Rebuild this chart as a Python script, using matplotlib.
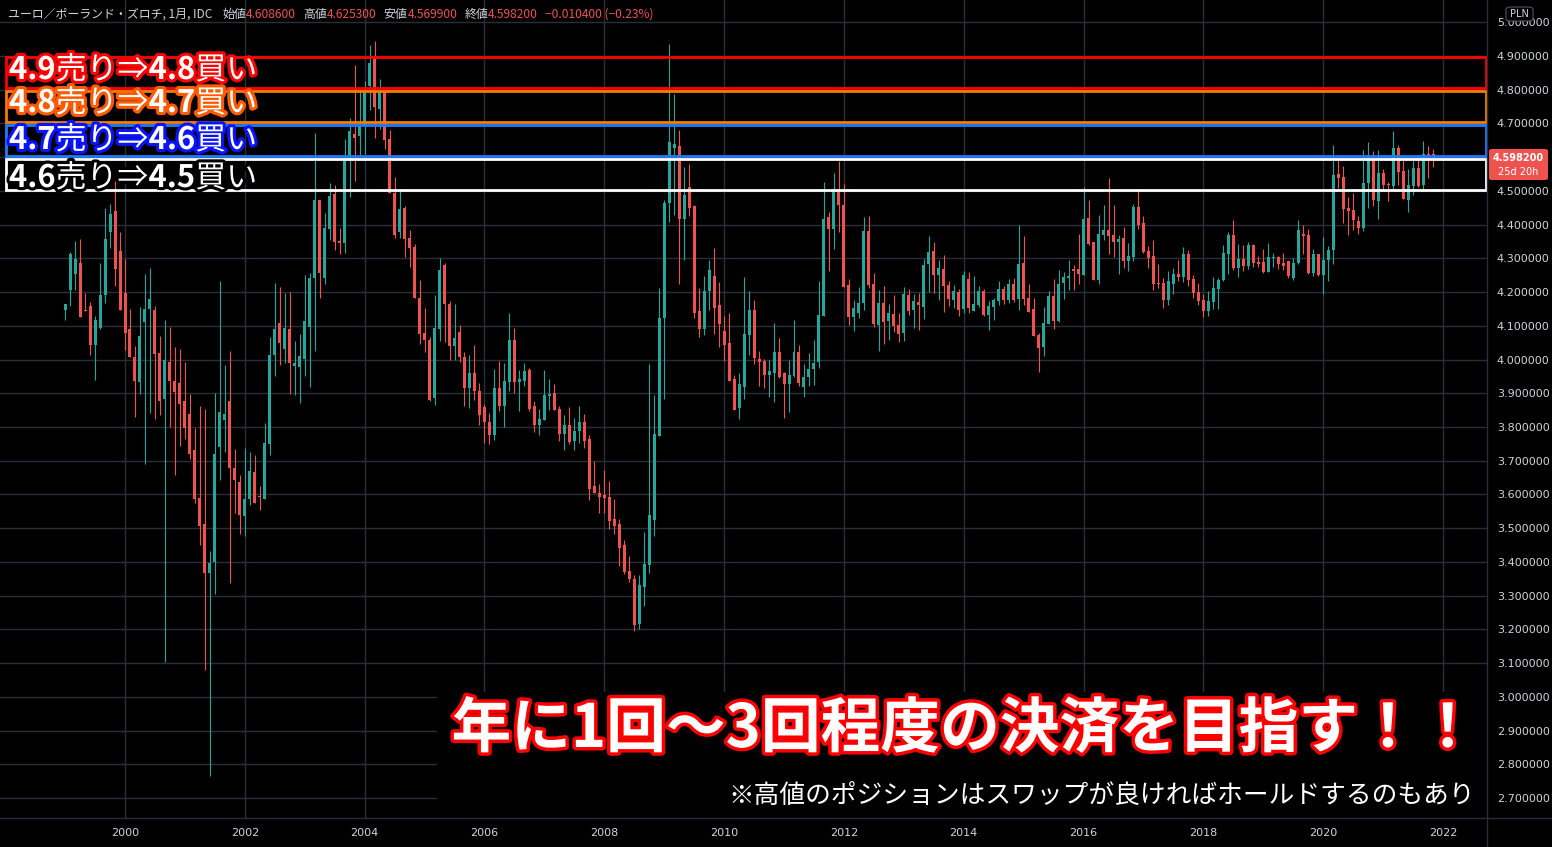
import numpy as np
import matplotlib.pyplot as plt
import matplotlib.patheffects as pe
from matplotlib.patches import Rectangle, FancyBboxPatch
from matplotlib.lines import Line2D

plt.rcParams['font.family'] = ['Noto Sans CJK JP', 'DejaVu Sans']

# EUR/PLN monthly candles, Jan 1999 - Nov 2021 (one row per year)
start_year = 1999
opens = [
    4.147, 4.206, 4.254, 4.285, 4.148, 4.160, 4.043, 4.093, 4.192, 4.377, 4.439, 4.323,
    4.198, 4.090, 4.008, 3.934, 4.111, 4.149, 4.147, 4.020, 3.882, 3.992, 3.937, 3.930,
    3.877, 3.839, 3.732, 3.590, 3.513, 3.368, 3.400, 3.742, 3.822, 3.877, 3.679, 3.636,
    3.536, 3.586, 3.668, 3.594, 3.586, 3.749, 4.013, 4.108, 4.032, 4.090, 3.982, 3.978,
    4.002, 4.098, 4.242, 4.472, 4.242, 4.387, 4.490, 4.351, 4.345, 4.590, 4.670, 4.662,
    4.695, 4.810, 4.895, 4.743, 4.797, 4.655, 4.495, 4.377, 4.448, 4.359, 4.335, 4.184,
    4.080, 4.059, 3.885, 4.090, 4.281, 4.166, 4.039, 4.083, 4.009, 3.915, 3.961, 3.908,
    3.858, 3.816, 3.775, 3.917, 3.863, 3.933, 4.059, 3.933, 3.936, 3.970, 3.863, 3.807,
    3.820, 3.893, 3.902, 3.852, 3.780, 3.807, 3.760, 3.789, 3.816, 3.764, 3.626, 3.605,
    3.599, 3.594, 3.527, 3.513, 3.450, 3.374, 3.349, 3.216, 3.327, 3.392, 3.524, 3.774,
    4.124, 4.463, 4.628, 4.634, 4.416, 4.511, 4.455, 4.144, 4.091, 4.204, 4.248, 4.162,
    4.085, 4.049, 3.943, 3.855, 3.920, 4.074, 4.147, 4.003, 3.995, 3.955, 3.961, 4.022,
    3.960, 3.928, 3.951, 4.022, 3.919, 3.947, 3.971, 3.992, 4.129, 4.424, 4.388, 4.500,
    4.459, 4.220, 4.126, 4.138, 4.167, 4.382, 4.223, 4.102, 4.169, 4.113, 4.134, 4.101,
    4.078, 4.190, 4.146, 4.172, 4.155, 4.282, 4.323, 4.250, 4.268, 4.220, 4.176, 4.200,
    4.149, 4.238, 4.144, 4.161, 4.203, 4.133, 4.155, 4.173, 4.208, 4.176, 4.223, 4.179,
    4.285, 4.182, 4.149, 4.072, 4.037, 4.105, 4.188, 4.114, 4.226, 4.241, 4.269, 4.269,
    4.250, 4.419, 4.349, 4.235, 4.368, 4.383, 4.368, 4.348, 4.360, 4.291, 4.303, 4.451,
    4.404, 4.321, 4.306, 4.226, 4.226, 4.176, 4.223, 4.253, 4.244, 4.312, 4.238, 4.200,
    4.176, 4.143, 4.170, 4.208, 4.235, 4.312, 4.368, 4.271, 4.297, 4.277, 4.339, 4.288,
    4.288, 4.259, 4.300, 4.303, 4.285, 4.291, 4.241, 4.286, 4.373, 4.368, 4.256, 4.314,
    4.250, 4.294, 4.324, 4.549, 4.540, 4.448, 4.442, 4.410, 4.389, 4.523, 4.591, 4.469,
    4.552, 4.521, 4.514, 4.626, 4.558, 4.472, 4.514, 4.567, 4.517, 4.608, 4.6086,
]
highs = [
    4.165, 4.320, 4.352, 4.358, 4.198, 4.172, 4.130, 4.285, 4.448, 4.462, 4.530, 4.379,
    4.299, 4.149, 4.040, 4.155, 4.253, 4.270, 4.160, 4.069, 4.117, 4.097, 4.037, 4.031,
    3.992, 3.898, 3.797, 3.863, 3.853, 3.433, 3.901, 4.234, 3.984, 4.025, 3.736, 3.658,
    3.739, 3.726, 3.718, 3.626, 3.811, 4.067, 4.227, 4.215, 4.197, 4.200, 4.055, 4.077,
    4.250, 4.257, 4.673, 4.472, 4.434, 4.522, 4.518, 4.390, 4.655, 4.717, 4.872, 4.797,
    4.825, 4.934, 4.944, 4.832, 4.797, 4.680, 4.540, 4.505, 4.455, 4.385, 4.343, 4.237,
    4.152, 4.068, 4.192, 4.302, 4.287, 4.175, 4.166, 4.101, 4.021, 4.015, 4.044, 3.932,
    3.868, 3.843, 3.973, 3.995, 3.989, 4.139, 4.095, 3.970, 3.991, 3.976, 3.878, 3.852,
    3.970, 3.941, 3.929, 3.862, 3.837, 3.858, 3.828, 3.863, 3.840, 3.776, 3.700, 3.630,
    3.673, 3.640, 3.587, 3.527, 3.465, 3.418, 3.361, 3.361, 3.490, 3.988, 3.895, 4.213,
    4.473, 4.935, 4.786, 4.680, 4.570, 4.580, 4.458, 4.212, 4.249, 4.296, 4.331, 4.229,
    4.129, 4.137, 3.953, 3.959, 4.244, 4.204, 4.178, 4.025, 4.003, 3.998, 4.107, 4.063,
    3.964, 4.000, 4.118, 4.044, 3.988, 4.018, 4.059, 4.232, 4.527, 4.438, 4.554, 4.589,
    4.521, 4.240, 4.178, 4.214, 4.422, 4.427, 4.258, 4.205, 4.217, 4.164, 4.190, 4.137,
    4.214, 4.208, 4.193, 4.196, 4.298, 4.367, 4.349, 4.294, 4.309, 4.232, 4.220, 4.208,
    4.262, 4.259, 4.247, 4.217, 4.208, 4.173, 4.182, 4.232, 4.217, 4.238, 4.241, 4.398,
    4.365, 4.223, 4.182, 4.078, 4.156, 4.203, 4.238, 4.265, 4.259, 4.294, 4.280, 4.371,
    4.512, 4.472, 4.349, 4.428, 4.457, 4.537, 4.457, 4.368, 4.392, 4.345, 4.460, 4.505,
    4.425, 4.336, 4.354, 4.283, 4.241, 4.262, 4.271, 4.294, 4.333, 4.324, 4.250, 4.226,
    4.194, 4.203, 4.244, 4.241, 4.339, 4.377, 4.413, 4.342, 4.339, 4.348, 4.342, 4.306,
    4.327, 4.345, 4.315, 4.306, 4.315, 4.291, 4.300, 4.413, 4.398, 4.386, 4.327, 4.314,
    4.363, 4.336, 4.635, 4.591, 4.573, 4.481, 4.493, 4.425, 4.620, 4.644, 4.617, 4.620,
    4.564, 4.525, 4.677, 4.635, 4.591, 4.564, 4.594, 4.591, 4.647, 4.632, 4.6253,
]
lows = [
    4.118, 4.160, 4.206, 4.127, 4.144, 4.014, 3.939, 4.091, 4.168, 4.331, 4.218, 4.148,
    4.029, 4.008, 3.829, 3.898, 3.691, 3.841, 3.823, 3.835, 3.104, 3.800, 3.659, 3.744,
    3.764, 3.704, 3.574, 3.449, 3.080, 2.765, 3.304, 3.643, 3.725, 3.339, 3.546, 3.484,
    3.476, 3.568, 3.576, 3.554, 3.586, 3.718, 3.950, 3.985, 3.990, 3.898, 3.894, 3.871,
    3.950, 3.918, 4.025, 4.183, 4.223, 4.353, 4.325, 4.313, 4.315, 4.483, 4.528, 4.603,
    4.610, 4.740, 4.657, 4.683, 4.623, 4.495, 4.360, 4.360, 4.303, 4.274, 4.182, 4.046,
    4.022, 3.876, 3.866, 4.056, 4.053, 3.998, 4.000, 3.992, 3.863, 3.856, 3.880, 3.805,
    3.752, 3.749, 3.762, 3.849, 3.799, 3.908, 3.901, 3.847, 3.923, 3.847, 3.784, 3.775,
    3.820, 3.850, 3.850, 3.760, 3.733, 3.751, 3.733, 3.754, 3.739, 3.585, 3.603, 3.545,
    3.545, 3.499, 3.482, 3.388, 3.363, 3.340, 3.196, 3.202, 3.269, 3.367, 3.478, 3.774,
    3.882, 4.408, 4.428, 4.225, 4.296, 4.426, 4.124, 4.068, 4.074, 4.147, 4.077, 4.037,
    3.997, 3.937, 3.850, 3.824, 3.884, 4.014, 3.988, 3.922, 3.916, 3.890, 3.875, 3.946,
    3.828, 3.845, 3.949, 3.923, 3.890, 3.923, 3.925, 3.976, 4.129, 4.264, 4.327, 4.379,
    4.215, 4.101, 4.084, 4.123, 4.146, 4.212, 4.096, 4.025, 4.045, 4.057, 4.081, 4.051,
    4.054, 4.131, 4.093, 4.087, 4.119, 4.199, 4.198, 4.176, 4.141, 4.158, 4.152, 4.130,
    4.138, 4.138, 4.144, 4.155, 4.130, 4.088, 4.118, 4.161, 4.165, 4.167, 4.170, 4.146,
    4.161, 4.140, 4.069, 3.963, 4.010, 4.105, 4.090, 4.112, 4.179, 4.206, 4.206, 4.223,
    4.250, 4.339, 4.235, 4.223, 4.354, 4.312, 4.303, 4.253, 4.271, 4.262, 4.291, 4.386,
    4.315, 4.271, 4.206, 4.211, 4.152, 4.161, 4.194, 4.232, 4.229, 4.217, 4.182, 4.161,
    4.126, 4.129, 4.149, 4.149, 4.232, 4.253, 4.265, 4.244, 4.262, 4.268, 4.274, 4.274,
    4.256, 4.259, 4.274, 4.268, 4.265, 4.241, 4.235, 4.282, 4.312, 4.253, 4.247, 4.247,
    4.195, 4.232, 4.282, 4.508, 4.404, 4.368, 4.383, 4.371, 4.380, 4.448, 4.454, 4.416,
    4.499, 4.469, 4.505, 4.517, 4.475, 4.437, 4.487, 4.511, 4.499, 4.537, 4.5699,
]
closes = [
    4.165, 4.314, 4.298, 4.127, 4.144, 4.043, 4.118, 4.192, 4.356, 4.431, 4.269, 4.148,
    4.079, 4.008, 3.936, 4.069, 4.151, 4.180, 4.016, 3.876, 4.000, 3.936, 3.904, 3.868,
    3.797, 3.719, 3.588, 3.508, 3.368, 3.398, 3.720, 3.845, 3.839, 3.678, 3.643, 3.539,
    3.586, 3.671, 3.576, 3.592, 3.754, 4.013, 4.090, 4.050, 4.095, 3.990, 3.990, 4.012,
    4.115, 4.242, 4.472, 4.257, 4.389, 4.485, 4.348, 4.345, 4.590, 4.677, 4.658, 4.698,
    4.797, 4.880, 4.750, 4.797, 4.650, 4.495, 4.370, 4.446, 4.358, 4.330, 4.182, 4.075,
    4.057, 3.880, 4.095, 4.267, 4.164, 4.039, 4.064, 4.007, 3.915, 3.961, 3.906, 3.835,
    3.814, 3.775, 3.917, 3.863, 3.935, 4.059, 3.933, 3.941, 3.967, 3.853, 3.807, 3.825,
    3.896, 3.899, 3.850, 3.780, 3.807, 3.757, 3.789, 3.816, 3.760, 3.617, 3.603, 3.594,
    3.590, 3.522, 3.507, 3.441, 3.371, 3.348, 3.212, 3.332, 3.394, 3.540, 3.780, 4.124,
    4.463, 4.644, 4.638, 4.416, 4.488, 4.450, 4.138, 4.091, 4.204, 4.265, 4.152, 4.104,
    4.043, 3.937, 3.850, 3.928, 4.077, 4.147, 4.006, 3.993, 3.955, 3.967, 4.022, 3.949,
    3.928, 3.954, 4.022, 3.931, 3.947, 3.973, 3.991, 4.131, 4.417, 4.388, 4.500, 4.459,
    4.215, 4.126, 4.152, 4.169, 4.382, 4.220, 4.105, 4.169, 4.110, 4.137, 4.099, 4.075,
    4.193, 4.143, 4.175, 4.161, 4.279, 4.320, 4.250, 4.271, 4.218, 4.179, 4.203, 4.146,
    4.250, 4.153, 4.164, 4.203, 4.133, 4.158, 4.176, 4.208, 4.176, 4.223, 4.176, 4.283,
    4.179, 4.140, 4.069, 4.035, 4.108, 4.188, 4.115, 4.223, 4.244, 4.247, 4.262, 4.253,
    4.416, 4.342, 4.237, 4.371, 4.383, 4.365, 4.348, 4.357, 4.291, 4.306, 4.451, 4.398,
    4.318, 4.300, 4.223, 4.223, 4.176, 4.232, 4.253, 4.244, 4.312, 4.235, 4.197, 4.173,
    4.143, 4.173, 4.211, 4.235, 4.315, 4.368, 4.271, 4.297, 4.277, 4.339, 4.285, 4.283,
    4.259, 4.303, 4.303, 4.283, 4.277, 4.247, 4.285, 4.383, 4.366, 4.256, 4.312, 4.250,
    4.294, 4.324, 4.546, 4.538, 4.445, 4.440, 4.413, 4.389, 4.523, 4.606, 4.472, 4.552,
    4.517, 4.518, 4.626, 4.555, 4.475, 4.517, 4.567, 4.515, 4.608, 4.605, 4.5982,
]

# trade zones: (label parts, upper, lower)
zones = [
    (("4.9", "売り⇒", "4.8", "買い"), 4.9, 4.8),
    (("4.8", "売り⇒", "4.7", "買い"), 4.8, 4.7),
    (("4.7", "売り⇒", "4.6", "買い"), 4.7, 4.6),
    (("4.6", "売り⇒", "4.5", "買い"), 4.6, 4.5),
]
zone_edge = ['#ff0000', '#f57c00', '#1e7bff', '#ffffff']
zone_stroke = ['#ff0000', '#ff5a00', '#0a14ff', '#000000']

title_name = "ユーロ／ポーランド・ズロチ, 1月, IDC"
ohlc_labels = ["始値", "高値", "安値", "終値"]
change_text = "−0.010400 (−0.23%)"
last_price = "4.598200"
countdown = "25d 20h"
main_msg = "年に1回～3回程度の決済を目指す！！"
sub_msg = "※高値のポジションはスワップが良ければホールドするのもあり"

UP = '#26a69a'
DOWN = '#ef5350'
GRID = '#2a2e39'
TXT = '#d1d4dc'

W, H = 1552, 847
fig = plt.figure(figsize=(W / 100, H / 100), dpi=100)
fig.patch.set_facecolor('black')

ax_w, ax_h = 1487, 818
ax = fig.add_axes([0, (H - ax_h) / H, ax_w / W, ax_h / H])
ax.set_facecolor('black')

o = np.array(opens)
h = np.array(highs)
l = np.array(lows)
c = np.array(closes)
t = start_year + np.arange(len(c)) / 12.0
col = np.where(c >= o, UP, DOWN)

ax.vlines(t, l, h, colors=col, linewidth=0.8, zorder=2)
body_lo = np.minimum(o, c)
body_h = np.maximum(np.abs(c - o), 0.003)
ax.bar(t, body_h, bottom=body_lo, width=0.05, color=col, linewidth=0, zorder=3)

ax.set_xlim(1997.9135, 2022.734)
ax.set_ylim(2.6409, 5.066)
yt = np.round(np.arange(2.7, 5.01, 0.1), 1)
ax.set_yticks(yt)
# the 4.6 label sits under the last-price badge
ax.set_yticklabels(["" if abs(v - 4.6) < 1e-9 else f"{v:.6f}" for v in yt])
ax.yaxis.tick_right()
ax.set_xticks(range(2000, 2023, 2))
ax.tick_params(axis='y', length=0, pad=7, labelsize=8, labelcolor=TXT)
ax.tick_params(axis='x', length=0, pad=7, labelsize=8, labelcolor=TXT)
for lab in ax.get_xticklabels() + ax.get_yticklabels():
    lab.set_family('DejaVu Sans')
ax.grid(True, color=GRID, linewidth=1)
ax.set_axisbelow(True)
for s in ax.spines.values():
    s.set_visible(False)

# separators of price / time scale
fig.add_artist(Line2D([ax_w / W] * 2, [0, 1], color=GRID, linewidth=1))
fig.add_artist(Line2D([0, 1], [(H - ax_h) / H] * 2, color=GRID, linewidth=1))

# zone boxes
x_left = 1997.9135 + 6 / 59.909
x_right = 2022.72
for i, (parts, top, bot) in enumerate(zones):
    ax.add_patch(Rectangle((x_left, bot + 0.004), x_right - x_left, top - bot - 0.008,
                           fill=False, edgecolor=zone_edge[i], linewidth=2, zorder=5))

renderer = fig.canvas.get_renderer()


def put_parts(x_px, y_px, parts, size, stroke=None, slw=4):
    # parts: (text, colour, weight); y_px is the baseline from the top
    x = x_px
    for s, colour, weight in parts:
        if s.startswith(' '):
            x += float(s[1:])
            continue
        txt = fig.text(x / W, 1 - y_px / H, s, fontsize=size, color=colour,
                       fontweight=weight, va='baseline', ha='left', zorder=10)
        if stroke:
            txt.set_path_effects([pe.withStroke(linewidth=slw, foreground=stroke)])
        x = txt.get_window_extent(renderer).x1
    return x


baselines = [79, 112, 149, 187]
for i, (parts, top, bot) in enumerate(zones):
    put_parts(9, baselines[i],
              [(parts[0], 'white', 'bold'), (parts[1], 'white', 'normal'),
               (parts[2], 'white', 'bold'), (parts[3], 'white', 'normal')],
              22.3, stroke=zone_stroke[i], slw=4.5)

# title line
vals = ["4.608600", "4.625300", "4.569900", last_price]
title_parts = [(title_name, TXT, 'normal'), (' 10', None, None)]
for lab, v in zip(ohlc_labels, vals):
    title_parts += [(lab, TXT, 'normal'), (v, DOWN, 'normal'), (' 7', None, None)]
title_parts.append((change_text, DOWN, 'normal'))
put_parts(8, 18, title_parts, 8.6)

# black panel behind the message
ax.add_patch(Rectangle((437 / ax_w, 0), 1 - 437 / ax_w, (ax_h - 692) / ax_h,
                       transform=ax.transAxes, facecolor='black', edgecolor='none', zorder=6))
msg = fig.text(1478 / W, 1 - 730 / H, main_msg, fontsize=43, fontweight='bold', color='white',
               ha='right', va='center', zorder=11)
msg.set_path_effects([pe.withStroke(linewidth=5, foreground='#ff0000')])
fig.text(1475 / W, 1 - 796 / H, sub_msg, fontsize=18.5, color='white',
         ha='right', va='center', zorder=11)

# price-scale badges
fig.add_artist(FancyBboxPatch((1506 / W, 1 - 21 / H), 27 / W, 14 / H,
                              boxstyle='round,pad=0,rounding_size=0.003',
                              facecolor='black', edgecolor='#50535e', linewidth=0.8,
                              transform=fig.transFigure, zorder=12))
fig.text(1519.5 / W, 1 - 14 / H, "PLN", fontsize=7, color=TXT, ha='center', va='center',
         family='DejaVu Sans', zorder=13)
fig.add_artist(FancyBboxPatch((1489 / W, 1 - 180 / H), 59 / W, 31 / H,
                              boxstyle='round,pad=0,rounding_size=0.002',
                              facecolor=DOWN, edgecolor='none',
                              transform=fig.transFigure, zorder=12))
fig.text(1518.5 / W, 1 - 158 / H, last_price, fontsize=7, fontweight='bold', color='white',
         ha='center', va='center', family='DejaVu Sans', zorder=13)
fig.text(1518.5 / W, 1 - 172 / H, countdown, fontsize=7, color='white',
         ha='center', va='center', family='DejaVu Sans', zorder=13)

fig.savefig('out.png', dpi=100, facecolor='black')
